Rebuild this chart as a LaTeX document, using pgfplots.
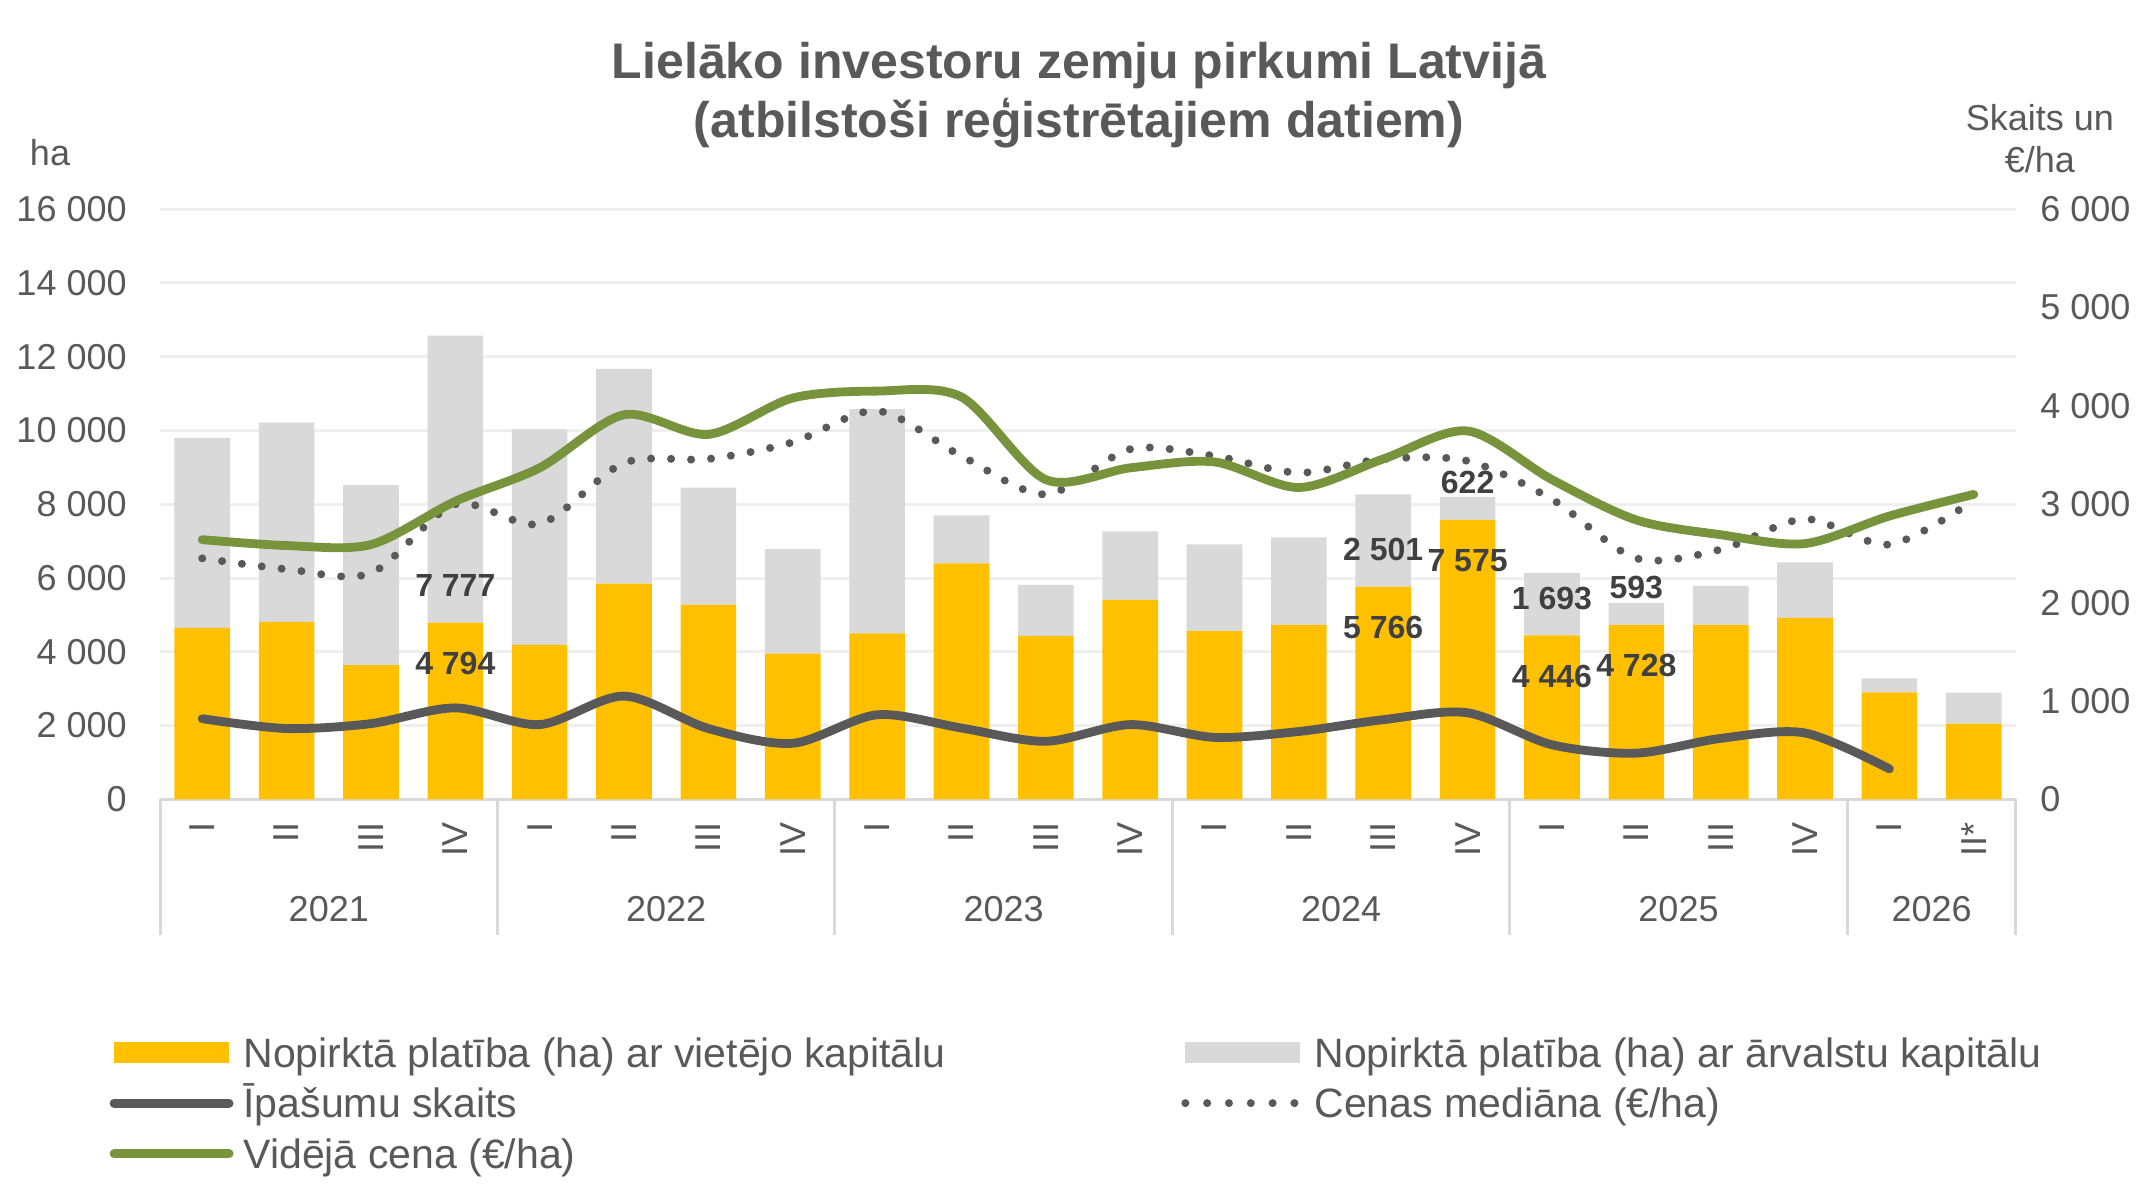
\documentclass[border=0pt]{standalone}
\usepackage{fontspec}
\setmainfont{Liberation Sans}
\usepackage{pgfplots}
\pgfplotsset{compat=1.18}
\usepackage{pgfplotstable}
\definecolor{cY}{HTML}{FFC000}
\definecolor{cG}{HTML}{D9D9D9}
\definecolor{cGreen}{HTML}{77933C}
\definecolor{cDark}{HTML}{595959}
\definecolor{cTxt}{HTML}{595959}
\definecolor{cLab}{HTML}{404040}
\definecolor{cGrid}{HTML}{EFEFEF}

\pgfplotstableread{
x loc forg
0 4650 5150
1 4810 5400
2 3640 4880
3 4794 7777
4 4190 5840
5 5850 5820
6 5280 3170
7 3950 2830
8 4500 6080
9 6400 1300
10 4430 1385
11 5410 1855
12 4560 2355
13 4730 2370
14 5766 2501
15 7575 622
16 4446 1693
17 4728 593
18 4730 1055
19 4920 1505
20 2900 380
21 2050 840
}\bars

\pgfplotsset{
  common/.style={width=927.5pt, height=295pt, scale only axis, xmin=-0.5, xmax=21.5, clip=false,
    at={(0pt,0pt)}, anchor=south west,
    scaled y ticks=false,
    ticklabel style={font=\fontsize{18}{21.6}\selectfont, text=cTxt},
    /pgf/number format/.cd, 1000 sep={\ }, assume math mode=true},
  barleg/.style={legend image code/.code={\fill[##1, draw=none] (0pt,-5.25pt) rectangle (57.5pt,5.25pt);}},
  lineleg/.style={legend image code/.code={\draw[##1] (0pt,0pt) -- (57.5pt,0pt);}},
  labelplot/.style={only marks, mark=text, text mark={}, nodes near coords, point meta=explicit symbolic,
    every node near coord/.append style={font=\fontsize{16}{19}\selectfont\bfseries, text=cLab, anchor=center, yshift=#1, inner sep=0pt}},
}

\begin{document}
\begin{tikzpicture}[every node/.style={text=cTxt}]
\useasboundingbox (-80pt,-194pt) rectangle (992pt,399.5pt);

% ---------- bars ----------
\begin{axis}[common, name=ax,
  ybar stacked, bar width=27.8pt,
  ymin=0, ymax=16000, ytick={0,2000,...,16000},
  ymajorgrids, grid style={cGrid, line width=1.5pt},
  axis x line*=bottom, axis y line*=left,
  y axis line style={draw=none},
  x axis line style={cG, line width=1.4pt},
  major tick length=0pt,
  xtick={0,...,21},
  xticklabels={I,II,III,IV,I,II,III,IV,I,II,III,IV,I,II,III,IV,I,II,III,IV,I,II*},
  xticklabel style={rotate=90, anchor=east, inner sep=0pt},
  xticklabel shift=11.5pt,
  yticklabel style={anchor=east, inner sep=0pt},
  yticklabel shift=16.5pt,
]
\addplot[fill=cY, draw=none] table[x=x, y=loc] {\bars};
\addplot[fill=cG, draw=none] table[x=x, y=forg] {\bars};
\pgfplotsinvokeforeach{-0.5,3.5,7.5,11.5,15.5,19.5,21.5}{
  \draw[cG, line width=1.5pt] (axis cs:#1,0) -- ++(0pt,-68pt);
}
\node[font=\fontsize{18}{21.6}\selectfont] at ([yshift=-55pt]axis cs:1.5,0) {2021};
\node[font=\fontsize{18}{21.6}\selectfont] at ([yshift=-55pt]axis cs:5.5,0) {2022};
\node[font=\fontsize{18}{21.6}\selectfont] at ([yshift=-55pt]axis cs:9.5,0) {2023};
\node[font=\fontsize{18}{21.6}\selectfont] at ([yshift=-55pt]axis cs:13.5,0) {2024};
\node[font=\fontsize{18}{21.6}\selectfont] at ([yshift=-55pt]axis cs:17.5,0) {2025};
\node[font=\fontsize{18}{21.6}\selectfont] at ([yshift=-55pt]axis cs:20.5,0) {2026};
\end{axis}

% ---------- data labels ----------
\begin{axis}[common, ymin=0, ymax=16000, hide axis]
\addplot[labelplot=18.5pt]
  coordinates {(3,4794) [7 777] (14,5766) [2 501] (15,7575) [622] (16,4446) [1 693] (17,4728) [593]};
\addplot[labelplot=-20.5pt]
  coordinates {(3,4794) [4 794] (14,5766) [5 766] (15,7575) [7 575] (16,4446) [4 446] (17,4728) [4 728]};
\end{axis}

% ---------- lines ----------
\begin{axis}[common,
  ymin=0, ymax=6000, ytick={0,1000,...,6000},
  axis y line*=right, hide x axis,
  y axis line style={draw=none},
  major tick length=0pt,
  yticklabel style={anchor=west, inner sep=0pt},
  yticklabel shift=12pt,
  legend columns=2,
  legend cell align=left,
  legend style={at={(axis description cs:0,0)}, anchor=north west, xshift=-25.2pt, yshift=-117.25pt,
    draw=none, fill=none, inner sep=0pt, outer sep=0pt, row sep=6.8pt,
    nodes={inner sep=0pt, text height=16.65pt, text depth=1.85pt, font=\fontsize{20.5}{24}\selectfont, text=cTxt},
    /tikz/every odd column/.append style={column sep=5pt},
    /tikz/every even column/.append style={column sep=117.75pt}},
]
\addlegendimage{barleg, fill=cY}
\addlegendentry{Nopirktā platība (ha) ar vietējo kapitālu}
\addlegendimage{barleg, fill=cG}
\addlegendentry{Nopirktā platība (ha) ar ārvalstu kapitālu}
\addlegendimage{lineleg, cDark, line width=4.4pt, line cap=round}
\addlegendentry{Īpašumu skaits}
\addlegendimage{lineleg, cDark, line width=4pt, line cap=round, dash pattern=on 0pt off 10.9pt}
\addlegendentry{Cenas mediāna (€/ha)}
\addlegendimage{lineleg, cGreen, line width=4.4pt, line cap=round}
\addlegendentry{Vidējā cena (€/ha)}

\addplot[cDark, line width=4.4pt, line cap=round, smooth, forget plot] coordinates {
(0,820) (1,720) (2,770) (3,930) (4,760) (5,1050) (6,720) (7,570) (8,860) (9,725)
(10,590) (11,760) (12,630) (13,690) (14,810) (15,880) (16,555) (17,470) (18,620) (19,675) (20,310)};
\addplot[cDark, line width=4pt, line cap=round, dash pattern=on 0pt off 10pt, smooth, forget plot] coordinates {
(0,2450) (1,2340) (2,2300) (3,3000) (4,2800) (5,3420) (6,3460) (7,3630) (8,3950) (9,3490)
(10,3100) (11,3560) (12,3490) (13,3320) (14,3460) (15,3440) (16,3050) (17,2450) (18,2540) (19,2850) (20,2590) (21,3040)};
\addplot[cGreen, line width=4.4pt, line cap=round, smooth, forget plot] coordinates {
(0,2640) (1,2580) (2,2590) (3,3030) (4,3370) (5,3910) (6,3710) (7,4080) (8,4150) (9,4090)
(10,3250) (11,3370) (12,3430) (13,3170) (14,3460) (15,3745) (16,3250) (17,2840) (18,2690) (19,2600) (20,2880) (21,3100)};
\end{axis}

% ---------- titles ----------
\node[font=\fontsize{25}{29.5}\selectfont\bfseries, align=center, anchor=center] at (459.25pt,352pt)
  {Lielāko investoru zemju pirkumi Latvijā\\(atbilstoši reģistrētajiem datiem)};
\node[font=\fontsize{18}{21.6}\selectfont, anchor=center] at (-55pt,323pt) {ha};
\node[font=\fontsize{18}{21}\selectfont, align=center, anchor=center] at (939.5pt,330pt) {Skaits un\\€/ha};
\end{tikzpicture}
\end{document}
